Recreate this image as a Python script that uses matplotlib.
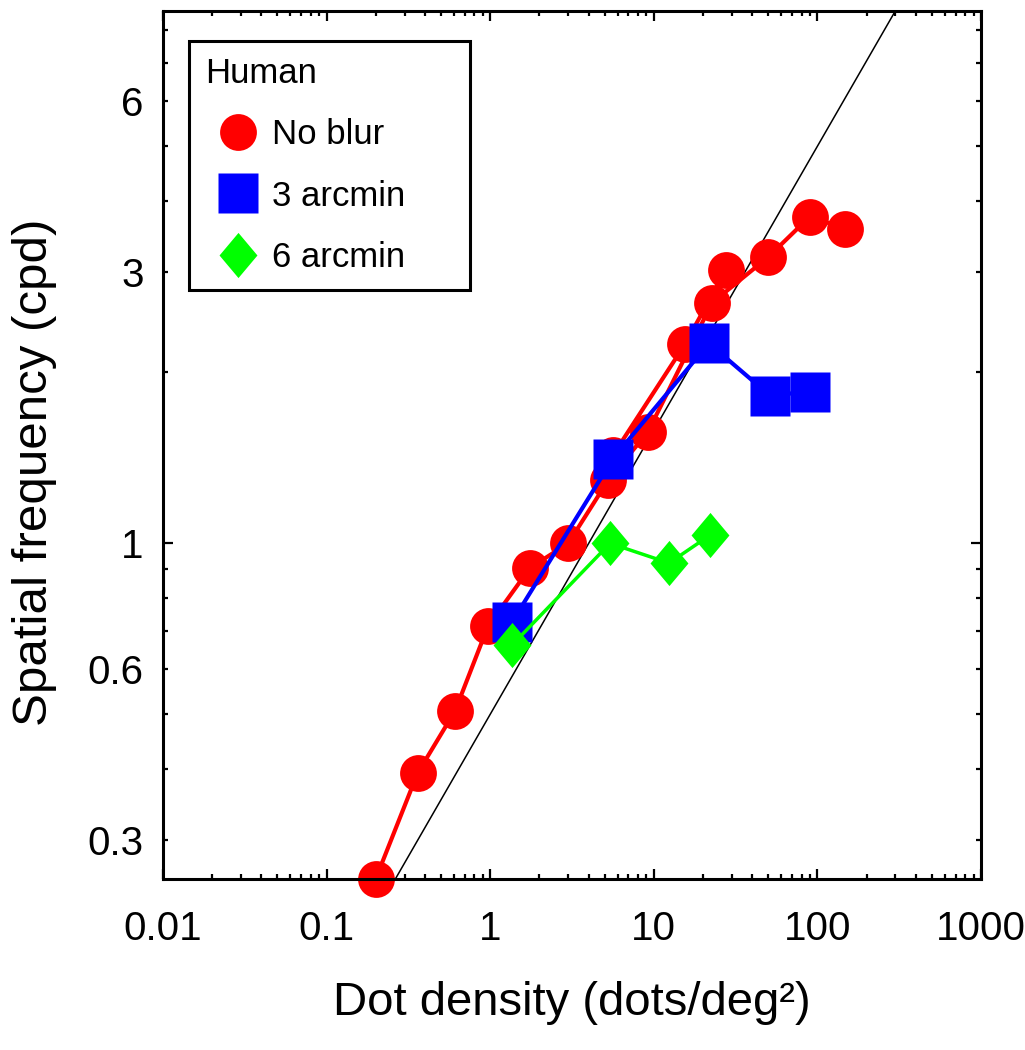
import matplotlib
matplotlib.use("Agg")
import matplotlib.pyplot as plt
from matplotlib.lines import Line2D
from matplotlib.path import Path
from matplotlib.ticker import FixedLocator, FixedFormatter, NullFormatter

plt.rcParams['font.family'] = ['Liberation Sans', 'DejaVu Sans']

# no blur, main run (dots/deg^2, cpd)
noblur_x = [0.2, 0.36, 0.61, 0.97, 1.75, 3.0, 5.25, 9.2, 22.7, 50, 90, 147]
noblur_y = [0.257, 0.394, 0.507, 0.715, 0.905, 1.0, 1.29, 1.57, 2.65, 3.19, 3.76, 3.58]
# no blur, extra points
noblur2_x = [5.63, 15.5, 27.6]
noblur2_y = [1.43, 2.24, 3.03]

blur3_x = [1.36, 5.63, 21.7, 51.3, 90]
blur3_y = [0.727, 1.41, 2.25, 1.82, 1.85]

blur6_x = [1.36, 5.4, 12.4, 22.1]
blur6_y = [0.662, 1.0, 0.923, 1.034]

# reference line, endpoints
limit_x = [0.25, 300]
limit_y = [0.25, 8.66]

xticks = [0.01, 0.1, 1, 10, 100, 1000]
xticklabels = ['0.01', '0.1', '1', '10', '100', '1000']
yticks_minor = [0.3, 0.4, 0.5, 0.6, 0.7, 0.8, 0.9, 2, 3, 4, 5, 6, 7, 8]
ytick_labels = {0.3: '0.3', 0.6: '0.6', 3: '3', 6: '6'}

diamond = Path([(-0.42, 0), (0, 0.5), (0.42, 0), (0, -0.5), (-0.42, 0)],
               [Path.MOVETO, Path.LINETO, Path.LINETO, Path.LINETO, Path.CLOSEPOLY])

RED = '#ff0000'
BLUE = '#0000ff'
GREEN = '#00ff00'

fig = plt.figure(figsize=(10.25, 10.5), dpi=100)
ax = fig.add_axes([163 / 1025, 171 / 1050, 818 / 1025, 868 / 1050])

ax.plot(limit_x, limit_y, color='black', lw=1.1, zorder=1)
ax.plot(noblur_x, noblur_y, color=RED, lw=3, marker='o', ms=26.5, mec='none', zorder=2, clip_on=False)
ax.plot(noblur2_x, noblur2_y, color=RED, lw=3, marker='o', ms=26.5, mec='none', zorder=2, clip_on=False)
ax.plot(blur3_x, blur3_y, color=BLUE, lw=3, marker='s', ms=28.5, mec='none', zorder=3)
ax.plot(blur6_x, blur6_y, color=GREEN, lw=2.5, marker=diamond, ms=32.5, mec='none', zorder=4)

ax.set_xscale('log')
ax.set_yscale('log')
ax.set_xlim(0.01, 1000)
ax.set_ylim(0.2565, 8.65)

ax.xaxis.set_major_locator(FixedLocator(xticks))
ax.xaxis.set_major_formatter(FixedFormatter(xticklabels))
ax.xaxis.set_minor_locator(FixedLocator([m * d for d in [0.01, 0.1, 1, 10, 100] for m in range(2, 10)]))
ax.xaxis.set_minor_formatter(NullFormatter())

ax.yaxis.set_major_locator(FixedLocator([1]))
ax.yaxis.set_major_formatter(FixedFormatter(['1']))
ax.yaxis.set_minor_locator(FixedLocator(yticks_minor))
ax.yaxis.set_minor_formatter(FixedFormatter([ytick_labels.get(v, '') for v in yticks_minor]))

for side in ax.spines.values():
    side.set_linewidth(2.2)
ax.tick_params(which='both', direction='in', top=True, right=True, labelsize=29, width=1.6)
ax.tick_params(which='major', length=7)
ax.tick_params(which='minor', length=3.5)
ax.tick_params(axis='x', which='both', pad=22)
ax.tick_params(axis='y', which='both', pad=14)

ax.set_xlabel('Dot density (dots/deg²)', fontsize=34, labelpad=24)
ax.set_ylabel('Spatial frequency (cpd)', fontsize=35.5)
ax.yaxis.set_label_coords(-0.13, 0.468)

handles = [
    Line2D([], [], ls='none', marker='o', ms=26.5, color=RED, mec='none'),
    Line2D([], [], ls='none', marker='s', ms=28.5, color=BLUE, mec='none'),
    Line2D([], [], ls='none', marker=diamond, ms=32.5, color=GREEN, mec='none'),
]
leg = ax.legend(handles, ['No blur', '3 arcmin', '6 arcmin'], title='Human',
                loc='upper left', bbox_to_anchor=(26 / 818, 1 - 30 / 868, 281 / 818, 0.0),
                mode='expand', alignment='left', fontsize=25, title_fontsize=25,
                handlelength=1.9, handletextpad=0.05, borderpad=0.45,
                labelspacing=0.82, fancybox=False, edgecolor='black', framealpha=1,
                borderaxespad=0)
leg.get_frame().set_linewidth(2.2)

fig.savefig('out.png', dpi=100)
